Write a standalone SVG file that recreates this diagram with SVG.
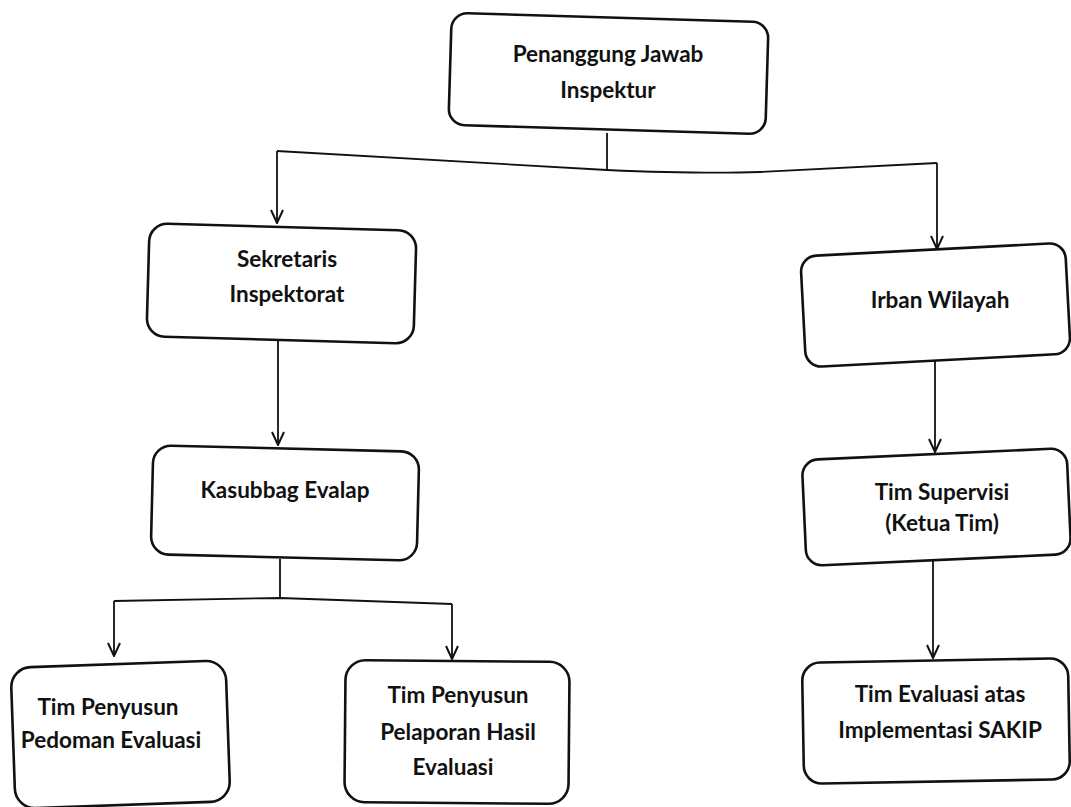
<svg xmlns="http://www.w3.org/2000/svg" width="1071" height="807" viewBox="0 0 1071 807">
<style>
.box{fill:#fff;stroke:#111;stroke-width:2.6}
.lbl{font-family:Lato,"Liberation Sans",sans-serif;font-weight:bold;font-size:22.5px;fill:#111;text-anchor:middle}
.con{fill:none;stroke:#111;stroke-width:1.8}
.arr{fill:none;stroke:#111;stroke-width:1.8;marker-end:url(#ah)}
</style>
<defs>
<marker id="ah" viewBox="-15 -8 16 16" refX="0" refY="0" markerWidth="16" markerHeight="16" markerUnits="userSpaceOnUse" orient="auto">
<path d="M-13,-6 L0,0 L-13,6" fill="none" stroke="#111" stroke-width="2"/>
</marker>
</defs>
<rect width="1071" height="807" fill="#fff"/>
<g id="connectors">
<path class="con" d="M607,133 L607,170"/>
<path class="con" d="M277,151 L607,170 Q700,174 760,172 L937,163"/>
<path class="arr" d="M277,151 L277,223"/>
<path class="arr" d="M937,163 L937,249"/>
<path class="arr" d="M278,340 L278,445"/>
<path class="con" d="M280,559 L280,599"/>
<path class="con" d="M114,601 L280,598 L452,604"/>
<path class="arr" d="M114,601 L114,656"/>
<path class="arr" d="M452,604 L452,659"/>
<path class="arr" d="M935,357 L935,452"/>
<path class="arr" d="M933,558 L933,658"/>
</g>
<g id="n-penanggung">
<rect class="box" x="450" y="17.5" width="317" height="112" rx="16" transform="rotate(1.7 608.5 73.5)"/>
<text class="lbl" x="608" y="62">Penanggung Jawab</text>
<text class="lbl" x="608" y="98">Inspektur</text>
</g>
<g id="n-sekretaris">
<rect class="box" x="148" y="227" width="267" height="113" rx="18" transform="rotate(1.6 281.5 283.5)"/>
<text class="lbl" x="287" y="267">Sekretaris</text>
<text class="lbl" x="287" y="302">Inspektorat</text>
</g>
<g id="n-kasubbag">
<rect class="box" x="152" y="448.5" width="266" height="109" rx="18" transform="rotate(1.4 285 503)"/>
<text class="lbl" x="285" y="498">Kasubbag Evalap</text>
</g>
<g id="n-irban">
<rect class="box" x="803" y="249.5" width="265" height="111" rx="16" transform="rotate(-3 935.5 305)"/>
<text class="lbl" x="940" y="308">Irban Wilayah</text>
</g>
<g id="n-supervisi">
<rect class="box" x="804" y="454" width="265" height="106" rx="16" transform="rotate(-2.6 936.5 507)"/>
<text class="lbl" x="942" y="500">Tim Supervisi</text>
<text class="lbl" x="942" y="531">(Ketua Tim)</text>
</g>
<g id="n-sakip">
<rect class="box" x="803" y="660.5" width="266" height="121" rx="18" transform="rotate(-1 936 721)"/>
<text class="lbl" x="940" y="702">Tim Evaluasi atas</text>
<text class="lbl" x="940" y="738">Implementasi SAKIP</text>
</g>
<g id="n-pedoman">
<rect class="box" x="13" y="664" width="215" height="141" rx="20" transform="rotate(-2 120.5 734.5)"/>
<text class="lbl" x="108" y="715">Tim Penyusun</text>
<text class="lbl" x="111" y="748">Pedoman Evaluasi</text>
</g>
<g id="n-pelaporan">
<rect class="box" x="345" y="661" width="224" height="142" rx="20" transform="rotate(0.5 457 732)"/>
<text class="lbl" x="458" y="703">Tim Penyusun</text>
<text class="lbl" x="458" y="740">Pelaporan Hasil</text>
<text class="lbl" x="453" y="775">Evaluasi</text>
</g>
</svg>
